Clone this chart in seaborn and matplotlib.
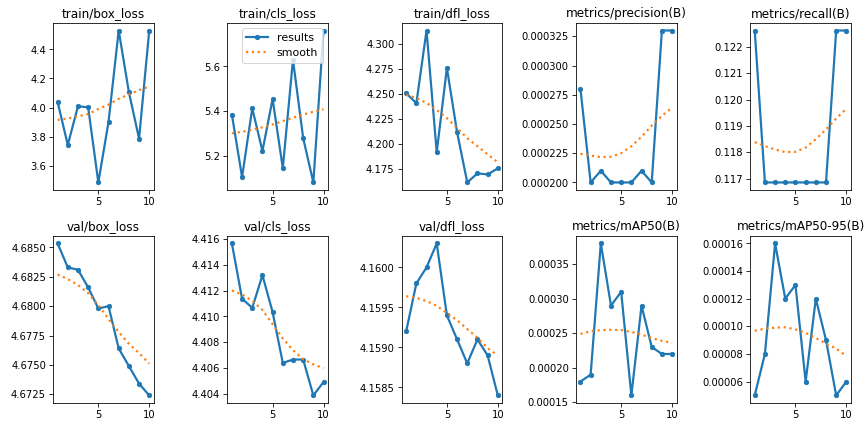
import matplotlib
matplotlib.use("Agg")
import matplotlib.pyplot as plt
import seaborn as sns
from matplotlib.ticker import ScalarFormatter, MaxNLocator

epochs = [1, 2, 3, 4, 5, 6, 7, 8, 9, 10]

titles = ["train/box_loss", "train/cls_loss", "train/dfl_loss", "metrics/precision(B)", "metrics/recall(B)",
          "val/box_loss", "val/cls_loss", "val/dfl_loss", "metrics/mAP50(B)", "metrics/mAP50-95(B)"]

train_box_loss = [4.039, 3.743, 4.009, 4.002, 3.485, 3.900, 4.530, 4.107, 3.786, 4.530]
train_box_smooth = [3.915, 3.925, 3.940, 3.955, 3.990, 4.020, 4.060, 4.090, 4.120, 4.145]
train_cls_loss = [5.384, 5.104, 5.412, 5.221, 5.454, 5.144, 5.630, 5.279, 5.080, 5.761]
train_cls_smooth = [5.300, 5.307, 5.316, 5.327, 5.340, 5.355, 5.370, 5.384, 5.397, 5.408]
train_dfl_loss = [4.2507, 4.2407, 4.313, 4.192, 4.2757, 4.212, 4.162, 4.171, 4.170, 4.176]
train_dfl_smooth = [4.249, 4.246, 4.241, 4.234, 4.226, 4.216, 4.206, 4.198, 4.190, 4.182]
precision = [0.00028, 0.00020, 0.00021, 0.00020, 0.00020, 0.00020, 0.00021, 0.00020, 0.00033, 0.00033]
precision_smooth = [0.0002245, 0.000223, 0.0002217, 0.000222, 0.000225, 0.000231, 0.000239, 0.0002486, 0.000257, 0.000264]
recall = [0.12262, 0.11686, 0.11686, 0.11686, 0.11686, 0.11686, 0.11686, 0.11686, 0.12262, 0.12262]
recall_smooth = [0.11839, 0.11824, 0.11811, 0.11801, 0.11802, 0.11818, 0.11850, 0.11887, 0.11928, 0.11966]
val_box_loss = [4.68534, 4.6833, 4.6831, 4.6816, 4.6798, 4.6800, 4.6764, 4.6749, 4.6734, 4.6724]
val_box_smooth = [4.6827, 4.6823, 4.6818, 4.6811, 4.6801, 4.6789, 4.6778, 4.6768, 4.6760, 4.6751]
val_cls_loss = [4.41564, 4.41138, 4.41066, 4.41319, 4.41033, 4.40641, 4.40667, 4.40667, 4.40390, 4.40493]
val_cls_smooth = [4.4120, 4.4117, 4.4112, 4.4105, 4.4094, 4.4083, 4.4074, 4.4067, 4.4063, 4.4060]
val_dfl_loss = [4.15920, 4.15980, 4.16000, 4.16030, 4.15940, 4.15910, 4.15880, 4.15910, 4.15890, 4.15840]
val_dfl_smooth = [4.15964, 4.15962, 4.15958, 4.15952, 4.15943, 4.15934, 4.15923, 4.15912, 4.15899, 4.15890]
map50 = [0.00018, 0.00019, 0.00038, 0.00029, 0.00031, 0.00016, 0.00029, 0.00023, 0.00022, 0.00022]
map50_smooth = [0.000249, 0.000253, 0.0002545, 0.000255, 0.0002545, 0.000252, 0.000248, 0.000243, 0.000239, 0.000236]
map5095 = [0.00005, 0.00008, 0.00016, 0.00012, 0.00013, 0.00006, 0.00012, 0.00009, 0.00005, 0.00006]
map5095_smooth = [0.0000968, 0.0000983, 0.000099, 0.0000993, 0.0000978, 0.0000952, 0.0000915, 0.0000875, 0.0000839, 0.0000785]

results = [train_box_loss, train_cls_loss, train_dfl_loss, precision, recall,
           val_box_loss, val_cls_loss, val_dfl_loss, map50, map5095]
smooths = [train_box_smooth, train_cls_smooth, train_dfl_smooth, precision_smooth, recall_smooth,
           val_box_smooth, val_cls_smooth, val_dfl_smooth, map50_smooth, map5095_smooth]

plt.rcParams["font.family"] = ["DejaVu Sans"]
fig, axes = plt.subplots(2, 5, figsize=(12, 5.87), dpi=72.08)
axes = axes.ravel()
for i, ax in enumerate(axes):
    sns.lineplot(x=epochs, y=results[i], ax=ax, marker=".", markersize=9, linewidth=2.2,
                 color="C0", markeredgecolor="C0", label="results")
    sns.lineplot(x=epochs, y=smooths[i], ax=ax, linestyle=":", linewidth=2.2,
                 color="C1", label="smooth")
    ax.set_title(titles[i], fontsize=12)
    ax.yaxis.set_major_locator(MaxNLocator(nbins=7, steps=[1, 2, 2.5, 5, 10]))
    fmt = ScalarFormatter(useOffset=False)
    fmt.set_scientific(False)
    ax.yaxis.set_major_formatter(fmt)
    ax.tick_params(labelsize=10)
    if i == 1:
        ax.legend(loc="upper right", fontsize=11)
    else:
        lg = ax.get_legend()
        if lg is not None:
            lg.remove()

fig.subplots_adjust(left=0.0613, right=0.9838, top=0.9456, bottom=0.0473,
                    hspace=0.274, wspace=0.729)
fig.savefig("out.png", dpi=72.08)
